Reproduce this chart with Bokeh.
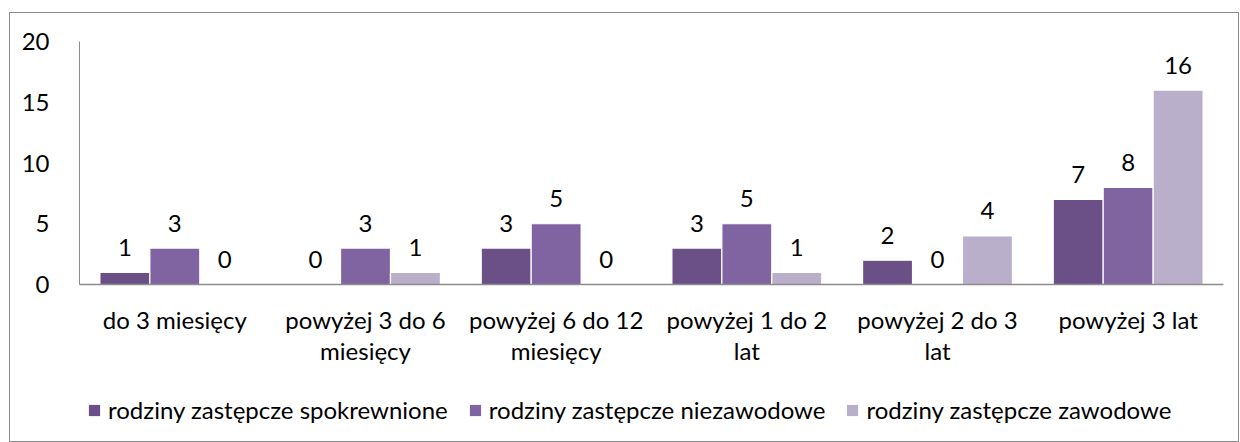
from bokeh.plotting import figure
from bokeh.layouts import column
from bokeh.models import ColumnDataSource, FactorRange, FixedTicker, Legend, LegendItem
from bokeh.transform import dodge
from bokeh.core.properties import value
from bokeh.embed import file_html
from bokeh.resources import INLINE

categories = ["do 3 miesięcy", "powyżej 3 do 6\nmiesięcy", "powyżej 6 do 12\nmiesięcy",
              "powyżej 1 do 2\nlat", "powyżej 2 do 3\nlat", "powyżej 3 lat"]
series_names = ["rodziny zastępcze spokrewnione", "rodziny zastępcze niezawodowe",
                "rodziny zastępcze zawodowe"]
spokrewnione = [1, 0, 3, 3, 2, 7]
niezawodowe = [3, 3, 5, 5, 0, 8]
zawodowe = [0, 1, 0, 1, 4, 16]
y_ticks = [0, 5, 10, 15, 20]

colors = ["#6A5087", "#8064A2", "#B9AFCB"]
FONT = "Lato"
FS = "24px"

src = ColumnDataSource(dict(
    cat=categories,
    s1=spokrewnione, s2=niezawodowe, s3=zawodowe,
    l1=[str(v) for v in spokrewnione],
    l2=[str(v) for v in niezawodowe],
    l3=[str(v) for v in zawodowe],
))

p = figure(x_range=FactorRange(*categories, range_padding=0), y_range=(0, 20),
           frame_width=1144, frame_height=243,
           min_border_left=69, min_border_top=28, min_border_right=15, min_border_bottom=90,
           output_backend="svg", toolbar_location=None)

step = 0.262
for i, (key, lab) in enumerate([("s1", "l1"), ("s2", "l2"), ("s3", "l3")]):
    off = (i - 1) * step
    p.vbar(x=dodge("cat", off, range=p.x_range), top=key, width=step, bottom=0,
           source=src, fill_color=colors[i], line_color="white", line_width=1.2)
    p.text(x=dodge("cat", off, range=p.x_range), y=key, text=lab, source=src,
           text_align="center", text_baseline="alphabetic", y_offset=-25,
           text_font=value(FONT), text_font_size=FS, text_color="#000000")

p.xgrid.visible = False
p.ygrid.visible = False
p.outline_line_color = None

p.yaxis.ticker = FixedTicker(ticks=y_ticks)
p.yaxis.major_tick_line_color = None
p.yaxis.minor_tick_line_color = None
p.yaxis.major_label_standoff = 24
p.yaxis.axis_line_color = "#8c8c8c"
p.yaxis.major_label_text_font = FONT
p.yaxis.major_label_text_font_size = FS
p.yaxis.major_label_text_color = "#000000"

p.xaxis.major_tick_line_color = None
p.xaxis.minor_tick_line_color = None
p.xaxis.axis_line_color = "#8c8c8c"
p.xaxis.axis_line_width = 1.5
p.xaxis.major_label_standoff = 14
p.xaxis.major_label_text_font = FONT
p.xaxis.major_label_text_font_size = FS
p.xaxis.major_label_text_color = "#000000"
p.xaxis.major_label_text_line_height = 1.1

# legend strip below the chart
lg = figure(x_range=(0, 1), y_range=(0, 1), frame_width=1228, frame_height=67,
            min_border=0, x_axis_location=None, y_axis_location=None,
            output_backend="svg", toolbar_location=None)
lg.outline_line_color = None
lg.grid.visible = False
dummies = [lg.vbar(x=[-1], top=[0], width=0.1, fill_color=colors[i], line_color=None) for i in range(3)]
legend = Legend(items=[LegendItem(label=series_names[i], renderers=[dummies[i]]) for i in range(3)],
                orientation="horizontal", location=(77, 17),
                label_text_font=FONT, label_text_font_size=FS, label_text_color="#000000",
                glyph_width=14, glyph_height=14, label_standoff=7, spacing=20,
                border_line_color=None, background_fill_alpha=0, margin=0, padding=0)
lg.add_layout(legend, "center")

layout = column(p, lg, spacing=0)
layout.margin = (12, 0, 0, 9)
layout.styles = {"border": "1px solid #8c8c8c"}

open("out.html", "w").write(file_html(layout, INLINE))
